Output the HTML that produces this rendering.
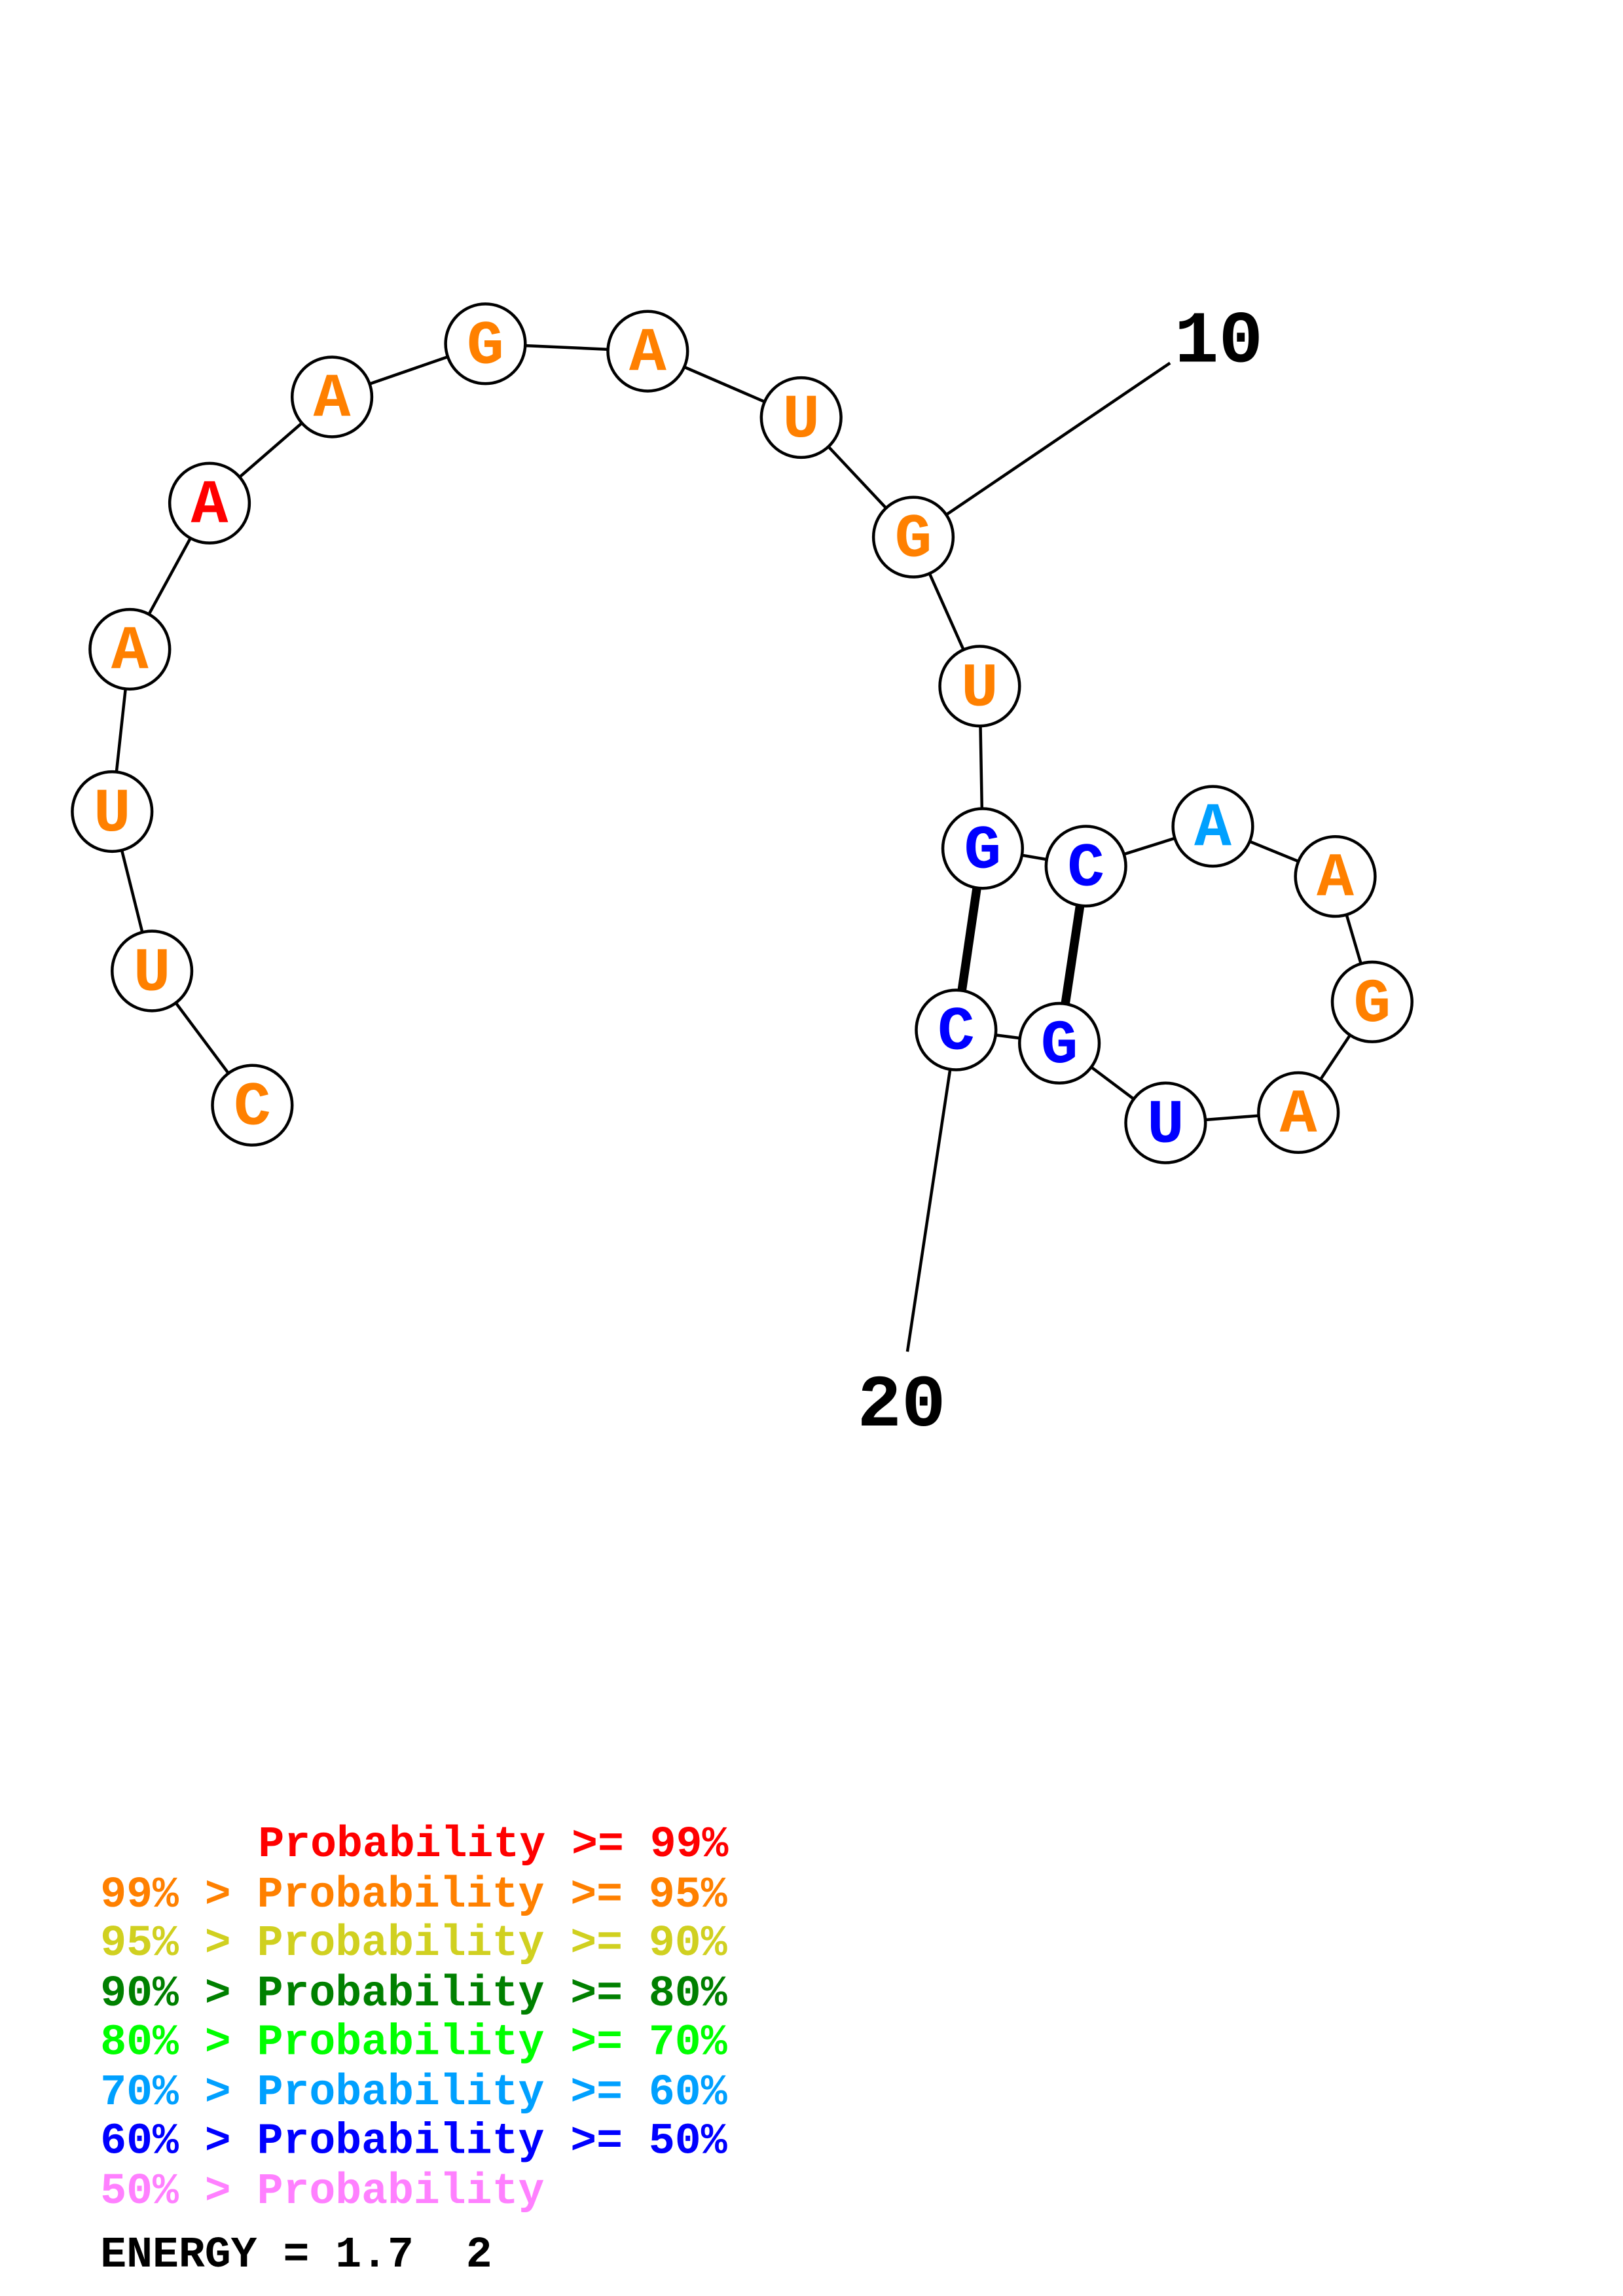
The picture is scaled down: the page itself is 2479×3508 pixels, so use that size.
<!DOCTYPE html>
<html><head><meta charset="utf-8"><style>
html,body{margin:0;padding:0;background:#fff;}
svg{display:block;}
.n{font-family:"Liberation Mono",monospace;font-weight:bold;font-size:42px;text-anchor:middle;dominant-baseline:central;}
.l{font-family:"Liberation Mono",monospace;font-weight:bold;font-size:29.5px;}
</style></head><body>
<svg width="2479" height="3508" viewBox="0 0 1100 1556" preserveAspectRatio="none" xmlns="http://www.w3.org/2000/svg">
<g transform="translate(-4,-4)">
<g stroke="#000" stroke-width="2" fill="none">
<polyline points="175,753 107,662 80,554 92,444 146,345 229,273 333,237 443,242 547,287 623,368 668,469 670,579 740,591 826,564 909,598 934,683 884,758 794,765 722,711 652,702"/>
<line x1="623" y1="368" x2="797" y2="250"/>
<line x1="652" y1="702" x2="619" y2="920"/>
<line x1="670" y1="579" x2="652" y2="702" stroke-width="6"/>
<line x1="740" y1="591" x2="722" y2="711" stroke-width="6"/>
</g>
<g fill="#fff" stroke="#000" stroke-width="2">
<circle cx="175" cy="753" r="27"/><circle cx="107" cy="662" r="27"/><circle cx="80" cy="554" r="27"/><circle cx="92" cy="444" r="27"/><circle cx="146" cy="345" r="27"/><circle cx="229" cy="273" r="27"/><circle cx="333" cy="237" r="27"/><circle cx="443" cy="242" r="27"/><circle cx="547" cy="287" r="27"/><circle cx="623" cy="368" r="27"/><circle cx="668" cy="469" r="27"/><circle cx="670" cy="579" r="27"/><circle cx="740" cy="591" r="27"/><circle cx="826" cy="564" r="27"/><circle cx="909" cy="598" r="27"/><circle cx="934" cy="683" r="27"/><circle cx="884" cy="758" r="27"/><circle cx="794" cy="765" r="27"/><circle cx="722" cy="711" r="27"/><circle cx="652" cy="702" r="27"/>
</g>
<g class="n">
<text x="175" y="755" fill="#ff8000">C</text>
<text x="107" y="664" fill="#ff8000">U</text>
<text x="80" y="556" fill="#ff8000">U</text>
<text x="92" y="446" fill="#ff8000">A</text>
<text x="146" y="347" fill="#ff0000">A</text>
<text x="229" y="275" fill="#ff8000">A</text>
<text x="333" y="239" fill="#ff8000">G</text>
<text x="443" y="244" fill="#ff8000">A</text>
<text x="547" y="289" fill="#ff8000">U</text>
<text x="623" y="370" fill="#ff8000">G</text>
<text x="668" y="471" fill="#ff8000">U</text>
<text x="670" y="581" fill="#0000ff">G</text>
<text x="740" y="593" fill="#0000ff">C</text>
<text x="826" y="566" fill="#00a0ff">A</text>
<text x="909" y="600" fill="#ff8000">A</text>
<text x="934" y="685" fill="#ff8000">G</text>
<text x="884" y="760" fill="#ff8000">A</text>
<text x="794" y="767" fill="#0000ff">U</text>
<text x="722" y="713" fill="#0000ff">G</text>
<text x="652" y="704" fill="#0000ff">C</text>
</g>
<g font-family="Liberation Mono,monospace" font-weight="bold" font-size="50" fill="#000">
<text x="800" y="249">10</text>
<text x="585" y="970">20</text>
</g>
</g>
<g class="l">
<text x="175" y="1258" fill="#ff0000">Probability &gt;= 99%</text>
<text x="68" y="1292" fill="#ff8000">99% &gt; Probability &gt;= 95%</text>
<text x="68" y="1325" fill="#d0d020">95% &gt; Probability &gt;= 90%</text>
<text x="68" y="1359" fill="#008000">90% &gt; Probability &gt;= 80%</text>
<text x="68" y="1392" fill="#00ff00">80% &gt; Probability &gt;= 70%</text>
<text x="68" y="1426" fill="#00a0ff">70% &gt; Probability &gt;= 60%</text>
<text x="68" y="1459" fill="#0000ff">60% &gt; Probability &gt;= 50%</text>
<text x="68" y="1493" fill="#ff80ff">50% &gt; Probability</text>
<text x="68" y="1536" fill="#000">ENERGY = 1.7&#160; 2</text>
</g>
</svg>
</body></html>
